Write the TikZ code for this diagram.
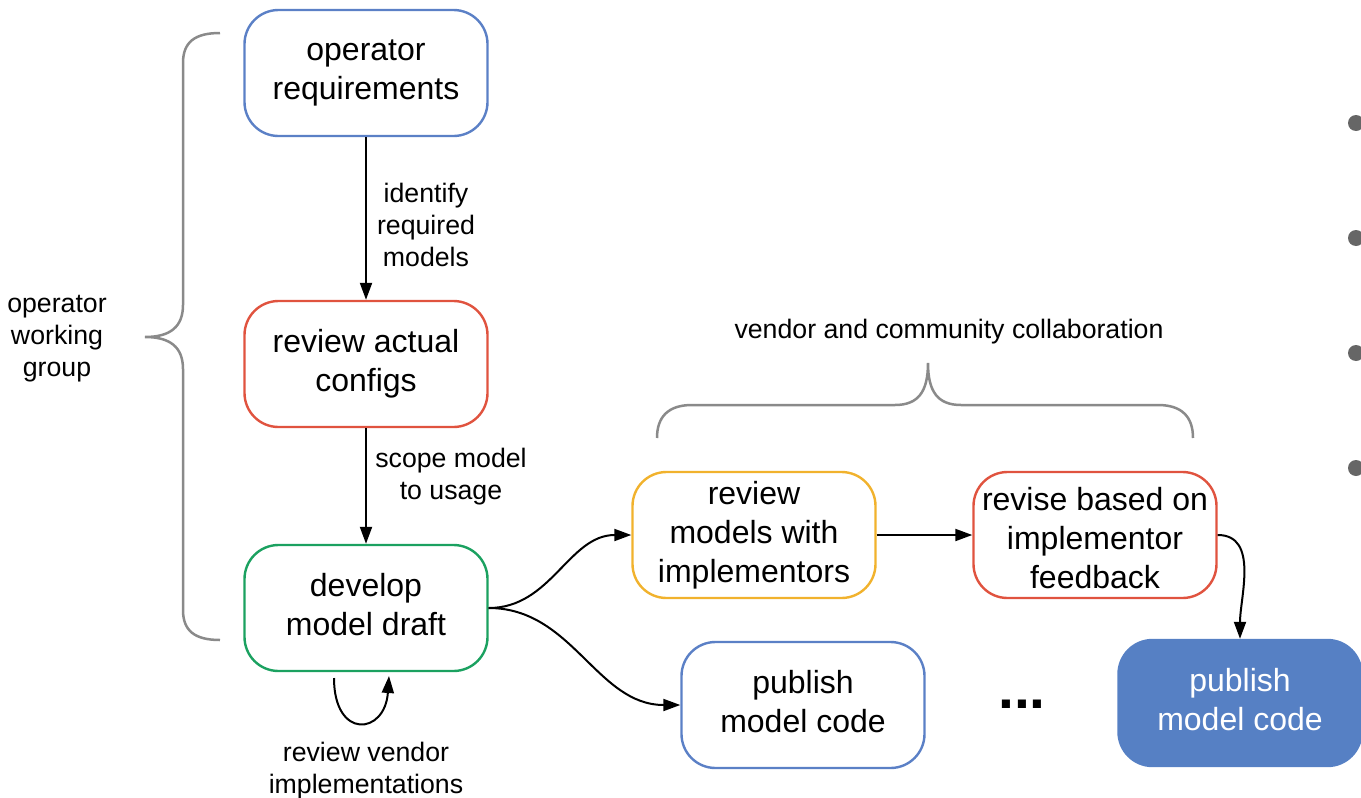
\documentclass[tikz,border=0pt]{standalone}
\usepackage{fontspec}
\setmainfont{Liberation Sans}
\usetikzlibrary{arrows.meta}
\definecolor{cblue}{HTML}{5B80C6}
\definecolor{cred}{HTML}{E0533F}
\definecolor{cgreen}{HTML}{1BA160}
\definecolor{cyellow}{HTML}{F1B22D}
\definecolor{cfill}{HTML}{5680C4}
\definecolor{cgray}{HTML}{8A8A8A}
\definecolor{cbullet}{HTML}{666666}
% struts that even out the vertical placement of box text
\newcommand\lowstrut{\rule[-7pt]{0pt}{0pt}}
\newcommand\highstrut{\rule{0pt}{29pt}}
\begin{document}
\begin{tikzpicture}[x=1pt,y=-1pt,
  box/.style={draw, line width=2.4pt, rounded corners=34pt, minimum width=243pt,
    minimum height=126pt, align=center, inner sep=0pt,
    font=\fontsize{32}{39}\selectfont},
  lbl/.style={align=center, inner sep=0pt, font=\fontsize{26.7}{32}\selectfont},
  arr/.style={line width=2pt, -{Triangle[length=17pt,width=12pt]}},
  brace/.style={draw=cgray, line width=2.5pt},
  bullet/.style={circle, fill=cbullet, minimum size=16pt, inner sep=0pt}]
\useasboundingbox (0,0) rectangle (1361,798);

% process boxes
\node[box, draw=cblue]   (req)  at (366,73)  {operator\\requirements};
\node[box, draw=cred]    (cfg)  at (366,364) {review actual\\configs};
\node[box, draw=cgreen]  (dev)  at (366,608) {develop\\model draft\lowstrut};
\node[box, draw=cyellow] (rvw)  at (754,535) {review\\models with\\implementors};
\node[box, draw=cred]    (rev)  at (1095,535) {\highstrut revise based on\\implementor\\feedback};
\node[box, draw=cblue]   (pub)  at (803,705) {publish\\model code\lowstrut};
\node[box, draw=cfill, fill=cfill, text=white] (pubf) at (1240,703) {publish\\model code\lowstrut};

% labels
\node[lbl] (lreq) at (426,225) {identify\\required\\models};
\node[lbl] (lcfg) at (451,477) {scope model\\to usage};
\node[lbl] (lgrp) at (57,339)  {operator\\working\\group};
\node[lbl] (lcol) at (949,332) {vendor and community collaboration};
\node[lbl] (lvnd) at (366,771) {review vendor\\implementations};
\node[inner sep=0pt, font=\fontsize{57}{60}\selectfont\bfseries] (dots) at (1022,704) {...};

% connectors
\draw[arr] (req) -- (cfg);
\draw[arr] (cfg) -- (dev);
\draw[arr] (dev.east) to[out=0,in=180] (rvw.west);
\draw[arr] (dev.east) to[out=0,in=180] (pub.west);
\draw[arr] (rvw) -- (rev);
\draw[arr] (rev.east) to[out=0,in=90] (pubf.north);

% self loop under the draft box
\coordinate (loopA) at (334,678);
\coordinate (loopB) at (389,676);
\draw[arr] (loopA) .. controls (334,740) and (385,735) .. (loopB);

% braces
\draw[brace] (220,33) .. controls (195,33) and (183,42) .. (183,63) -- (183,305)
  .. controls (183,327) and (170,337) .. (145,337)
  .. controls (170,337) and (183,347) .. (183,369) -- (183,610)
  .. controls (183,631) and (195,640) .. (220,640);
\draw[brace] (657,438) .. controls (657,417) and (668,405) .. (692,405) -- (895,405)
  .. controls (918,405) and (928,392) .. (928,363)
  .. controls (928,392) and (938,405) .. (961,405) -- (1158,405)
  .. controls (1182,405) and (1193,417) .. (1193,438);

% bullets at the right edge
\foreach \y [count=\i] in {123,238,353,468}
  \node[bullet] (b\i) at (1356,\y) {};
\end{tikzpicture}
\end{document}
